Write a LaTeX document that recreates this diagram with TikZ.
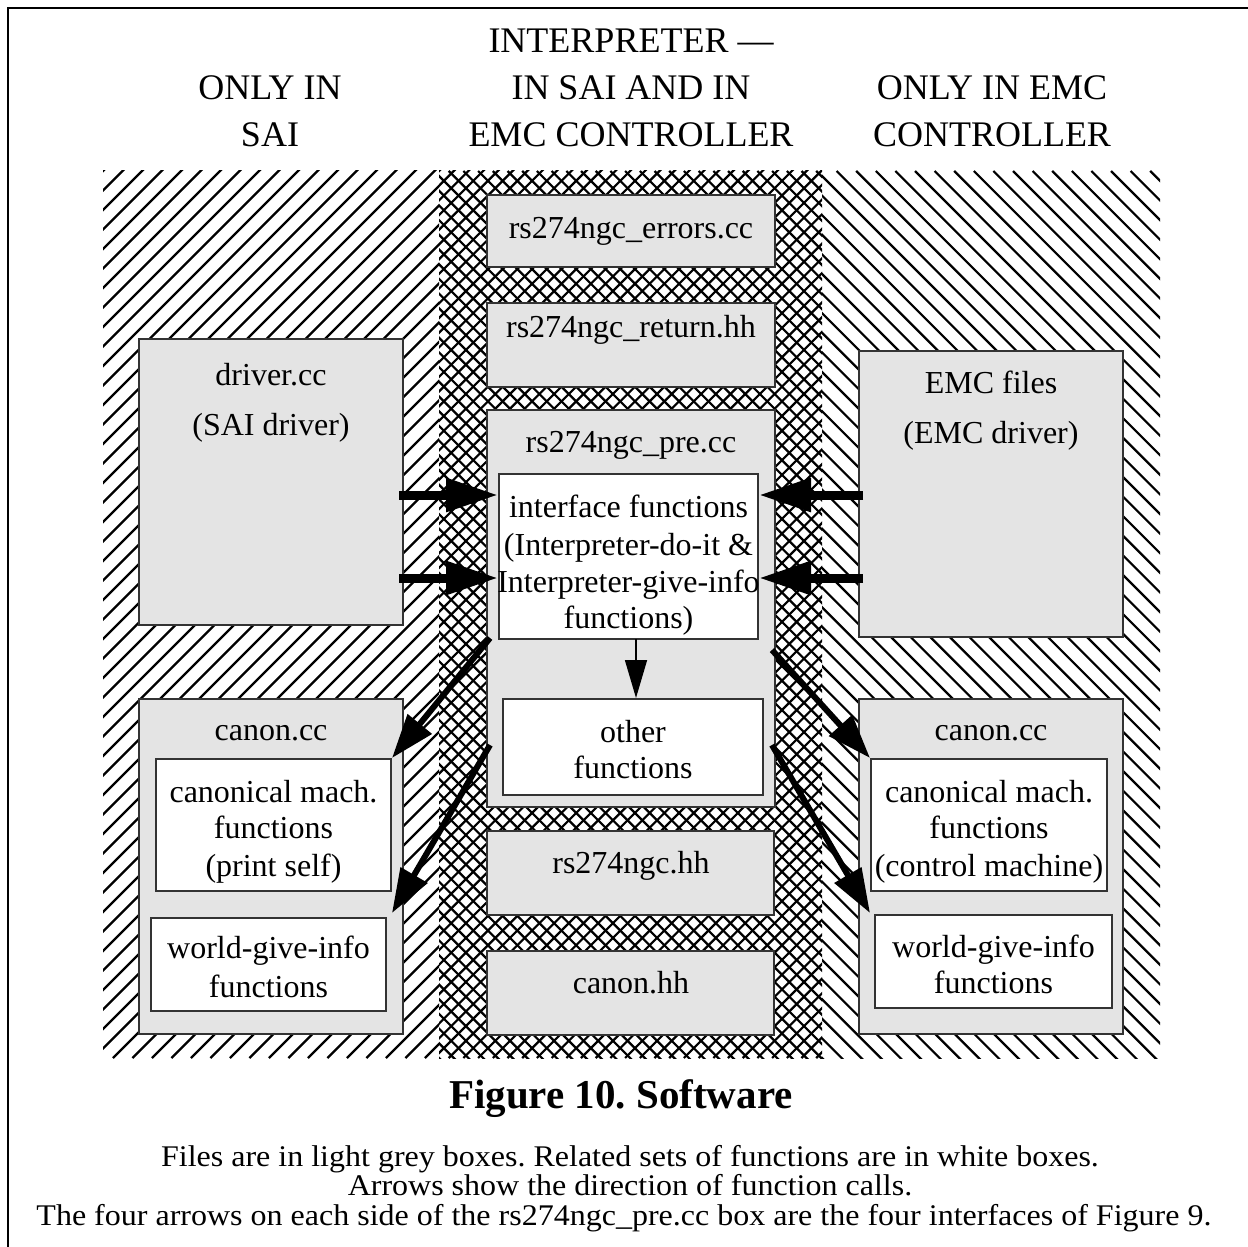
\documentclass[tikz,border=0pt]{standalone}
\usepackage{fontspec}
\setmainfont{Liberation Serif}
\newfontfamily\notefont[FakeStretch=1.067]{Liberation Serif}
\usetikzlibrary{arrows.meta,fit}
\definecolor{filegrey}{HTML}{E4E4E4}
\definecolor{edgecol}{HTML}{333333}
\frenchspacing
\tikzset{
  filebox/.style={draw=edgecol, fill=filegrey, line width=1pt, inner sep=0pt},
  funcbox/.style={draw=edgecol, fill=white, line width=1pt, inner sep=0pt},
  txt/.style={anchor=base, inner sep=0pt, font=\fontsize{16}{18}\selectfont},
  headtxt/.style={anchor=base, inner sep=0pt, font=\fontsize{18}{20}\selectfont},
  notetxt/.style={anchor=base, inner sep=0pt, font=\notefont\fontsize{15}{16}\selectfont},
  captxt/.style={anchor=base, inner sep=0pt, font=\bfseries\fontsize{20.5}{23}\selectfont},
  hatchline/.style={line width=1.1pt, black},
  callarrow/.style={line width=4.5pt, -{Triangle[length=26pt,width=16pt]}},
  diagarrow/.style={line width=3pt, -{Triangle[length=22pt,width=15pt]}},
  thinarrow/.style={line width=0.8pt, -{Triangle[length=19pt,width=11pt]}},
}
\begin{document}
\begin{tikzpicture}[x=0.5pt,y=-0.5pt]
\useasboundingbox (0,0) rectangle (1248,1247);
% frame
\draw[line width=1.3pt] (8,1247) -- (8,8) -- (1248,8);

% hatching: left region
\begin{scope}
  \clip (103,171) rectangle (439,1058);
  \foreach \i in {0,...,64} \draw[hatchline] ({103-887+\i*19.5},1058) -- ++(900,-900);
\end{scope}
% hatching: middle region (cross)
\begin{scope}
  \clip (439,171) rectangle (822,1058);
  \foreach \i in {0,...,88} {
    \draw[hatchline] ({439-887+\i*14.7},1058) -- ++(900,-900);
    \draw[hatchline] ({439-887+\i*14.7},171) -- ++(900,900);
  }
\end{scope}
% hatching: right region
\begin{scope}
  \clip (822,171) rectangle (1160,1058);
  \foreach \i in {0,...,64} \draw[hatchline] ({822-887+\i*19.6},171) -- ++(900,900);
\end{scope}

% headings
\node[headtxt] (hl1) at (270,100) {ONLY IN};
\node[headtxt] (hl2) at (270,147) {SAI};
\node[headtxt] (hm1) at (631,53) {INTERPRETER ---};
\node[headtxt] (hm2) at (631,100) {IN SAI AND IN};
\node[headtxt] (hm3) at (631,147) {EMC CONTROLLER};
\node[headtxt] (hr1) at (992,100) {ONLY IN EMC};
\node[headtxt] (hr2) at (992,147) {CONTROLLER};

% middle column
\node[filebox, fit={(487,195)(775,267)}] (err) {};
\node[txt] (terr) at (631,238) {rs274ngc\_errors.cc};
\node[filebox, fit={(487,303)(775,387)}] (ret) {};
\node[txt] (tret) at (631,337) {rs274ngc\_return.hh};
\node[filebox, fit={(487,410)(775,807)}] (pre) {};
\node[txt] (tpre) at (631,452) {rs274ngc\_pre.cc};
\node[funcbox, fit={(499,474)(758,639)}] (iface) {};
\node[txt] (ti1) at (628.5,517) {interface functions};
\node[txt] (ti2) at (628.5,555) {(Interpreter-do-it \&};
\node[txt] (ti3) at (628.5,592) {Interpreter-give-info};
\node[txt] (ti4) at (628.5,628) {functions)};
\node[funcbox, fit={(503,699)(763,795)}] (other) {};
\node[txt] (to1) at (633,742) {other};
\node[txt] (to2) at (633,778) {functions};
\node[filebox, fit={(487,831)(774,915)}] (rsh) {};
\node[txt] (trsh) at (631,873) {rs274ngc.hh};
\node[filebox, fit={(487,951)(774,1035)}] (canh) {};
\node[txt] (tcanh) at (631,993) {canon.hh};

% left column
\node[filebox, fit={(139,339)(403,625)}] (driver) {};
\node[txt] (td1) at (271,385) {driver.cc};
\node[txt] (td2) at (271,435) {(SAI driver)};
\node[filebox, fit={(139,699)(403,1034)}] (canl) {};
\node[txt] (tcanl) at (271,740) {canon.cc};
\node[funcbox, fit={(156,759)(391,891)}] (cml) {};
\node[txt] (tcml1) at (273.5,802) {canonical mach.};
\node[txt] (tcml2) at (273.5,838) {functions};
\node[txt] (tcml3) at (273.5,876) {(print self)};
\node[funcbox, fit={(151,918)(386,1011)}] (wl) {};
\node[txt] (twl1) at (268.5,958) {world-give-info};
\node[txt] (twl2) at (268.5,997) {functions};

% right column
\node[filebox, fit={(859,351)(1123,637)}] (emc) {};
\node[txt] (te1) at (991,393) {EMC files};
\node[txt] (te2) at (991,443) {(EMC driver)};
\node[filebox, fit={(859,699)(1123,1034)}] (canr) {};
\node[txt] (tcanr) at (991,740) {canon.cc};
\node[funcbox, fit={(871,759)(1107,891)}] (cmr) {};
\node[txt] (tcmr1) at (989,802) {canonical mach.};
\node[txt] (tcmr2) at (989,838) {functions};
\node[txt] (tcmr3) at (989,876) {(control machine)};
\node[funcbox, fit={(875,915)(1112,1008)}] (wr) {};
\node[txt] (twr1) at (993.5,957) {world-give-info};
\node[txt] (twr2) at (993.5,993) {functions};

% arrow end points
\coordinate (la1) at (399,495);
\coordinate (la2) at (399,578);
\coordinate (ra1) at (863,495);
\coordinate (ra2) at (863,578);
\coordinate (dl1) at (490,638);
\coordinate (dl2) at (490,745);
\coordinate (dr1) at (772,650);
\coordinate (dr2) at (772,745);
\coordinate (tl2) at (392,913);
\coordinate (tr2) at (870,913);
\coordinate (dn) at (636,639);

% arrows
\draw[callarrow] (la1) -- (iface.west |- la1);
\draw[callarrow] (la2) -- (iface.west |- la2);
\draw[callarrow] (ra1) -- (iface.east |- ra1);
\draw[callarrow] (ra2) -- (iface.east |- ra2);
\draw[diagarrow] (dl1) -- (cml.north east);
\draw[diagarrow] (dl2) -- (tl2);
\draw[diagarrow] (dr1) -- (cmr.north west);
\draw[diagarrow] (dr2) -- (tr2);
\draw[thinarrow] (dn) -- (dn |- other.north);

% caption
\node[captxt] (cap) at (621,1108) {Figure 10. Software};
\node[notetxt] (n1) at (630,1166) {Files are in light grey boxes. Related sets of functions are in white boxes.};
\node[notetxt] (n2) at (630,1195) {Arrows show the direction of function calls.};
\node[notetxt] (n3) at (624,1225) {The four arrows on each side of the rs274ngc\_pre.cc box are the four interfaces of Figure 9.};
\end{tikzpicture}
\end{document}
